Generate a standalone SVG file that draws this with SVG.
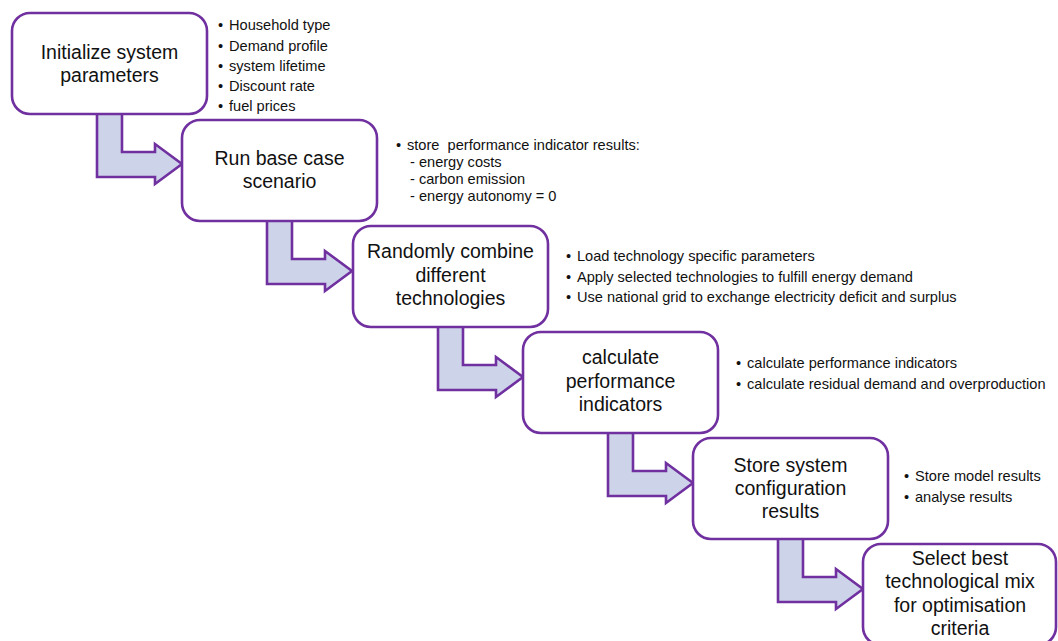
<svg xmlns="http://www.w3.org/2000/svg" width="1058" height="641" viewBox="0 0 1058 641">
<style>
.box{fill:#fff;stroke:#7030A0;stroke-width:2.6}
.arr{fill:#CDD3E9;stroke:#7030A0;stroke-width:2.6;stroke-linejoin:miter}
.t{font-family:"Liberation Sans",Arial,sans-serif;font-size:19.5px;fill:#111;text-anchor:middle}
.b{font-family:"Liberation Sans",Arial,sans-serif;font-size:14.6px;fill:#111}
</style>
<rect width="1058" height="641" fill="#fff"/>
<g id="connectors">
<path class="arr" d="M97,112 L122,112 L122,152 L155,152 L155,144 L182,164 L155,184 L155,177 L97,177 Z"/>
<path class="arr" d="M267,219 L292,219 L292,259 L325,259 L325,251 L352,271 L325,291 L325,284 L267,284 Z"/>
<path class="arr" d="M438,325 L463,325 L463,365 L496,365 L496,357 L523,377 L496,397 L496,390 L438,390 Z"/>
<path class="arr" d="M608,431 L633,431 L633,471 L666,471 L666,463 L693,483 L666,503 L666,496 L608,496 Z"/>
<path class="arr" d="M778,537 L803,537 L803,577 L836,577 L836,569 L863,589 L836,609 L836,602 L778,602 Z"/>
</g>
<g id="node1">
<rect class="box" x="12" y="13" width="195" height="101" rx="18"/>
<text class="t"><tspan x="109.5" y="59">Initialize system</tspan><tspan x="109.5" y="82">parameters</tspan></text>
<text class="b"><tspan x="218" y="30">•</tspan><tspan x="229" y="30">Household type</tspan></text>
<text class="b"><tspan x="218" y="50.5">•</tspan><tspan x="229" y="50.5">Demand profile</tspan></text>
<text class="b"><tspan x="218" y="71">•</tspan><tspan x="229" y="71">system lifetime</tspan></text>
<text class="b"><tspan x="218" y="91">•</tspan><tspan x="229" y="91">Discount rate</tspan></text>
<text class="b"><tspan x="218" y="111">•</tspan><tspan x="229" y="111">fuel prices</tspan></text>
</g>
<g id="node2">
<rect class="box" x="182" y="120" width="195" height="101" rx="18"/>
<text class="t"><tspan x="279.5" y="165">Run base case</tspan><tspan x="279.5" y="188">scenario</tspan></text>
<text class="b"><tspan x="396" y="150">•</tspan><tspan x="407" y="150">store&#160; performance indicator results:</tspan></text>
<text class="b" x="410" y="167">- energy costs</text>
<text class="b" x="410" y="184">- carbon emission</text>
<text class="b" x="410" y="201">- energy autonomy = 0</text>
</g>
<g id="node3">
<rect class="box" x="353" y="226" width="195" height="101" rx="18"/>
<text class="t"><tspan x="450.5" y="258">Randomly combine</tspan><tspan x="450.5" y="282">different</tspan><tspan x="450.5" y="305">technologies</tspan></text>
<text class="b"><tspan x="566" y="261">•</tspan><tspan x="577" y="261">Load technology specific parameters</tspan></text>
<text class="b"><tspan x="566" y="282">•</tspan><tspan x="577" y="282">Apply selected technologies to fulfill energy demand</tspan></text>
<text class="b"><tspan x="566" y="302">•</tspan><tspan x="577" y="302">Use national grid to exchange electricity deficit and surplus</tspan></text>
</g>
<g id="node4">
<rect class="box" x="523" y="332" width="195" height="101" rx="18"/>
<text class="t"><tspan x="620.5" y="364">calculate</tspan><tspan x="620.5" y="388">performance</tspan><tspan x="620.5" y="411">indicators</tspan></text>
<text class="b"><tspan x="736" y="368">•</tspan><tspan x="747" y="368">calculate performance indicators</tspan></text>
<text class="b"><tspan x="736" y="389">•</tspan><tspan x="747" y="389">calculate residual demand and overproduction</tspan></text>
</g>
<g id="node5">
<rect class="box" x="693" y="438" width="195" height="101" rx="18"/>
<text class="t"><tspan x="790.5" y="472">Store system</tspan><tspan x="790.5" y="495">configuration</tspan><tspan x="790.5" y="518">results</tspan></text>
<text class="b"><tspan x="904" y="481">•</tspan><tspan x="915" y="481">Store model results</tspan></text>
<text class="b"><tspan x="904" y="502">•</tspan><tspan x="915" y="502">analyse results</tspan></text>
</g>
<g id="node6">
<rect class="box" x="863" y="544" width="193" height="101" rx="18"/>
<text class="t"><tspan x="960" y="565">Select best</tspan><tspan x="960" y="588">technological mix</tspan><tspan x="960" y="612">for optimisation</tspan><tspan x="960" y="635">criteria</tspan></text>
</g>
</svg>
